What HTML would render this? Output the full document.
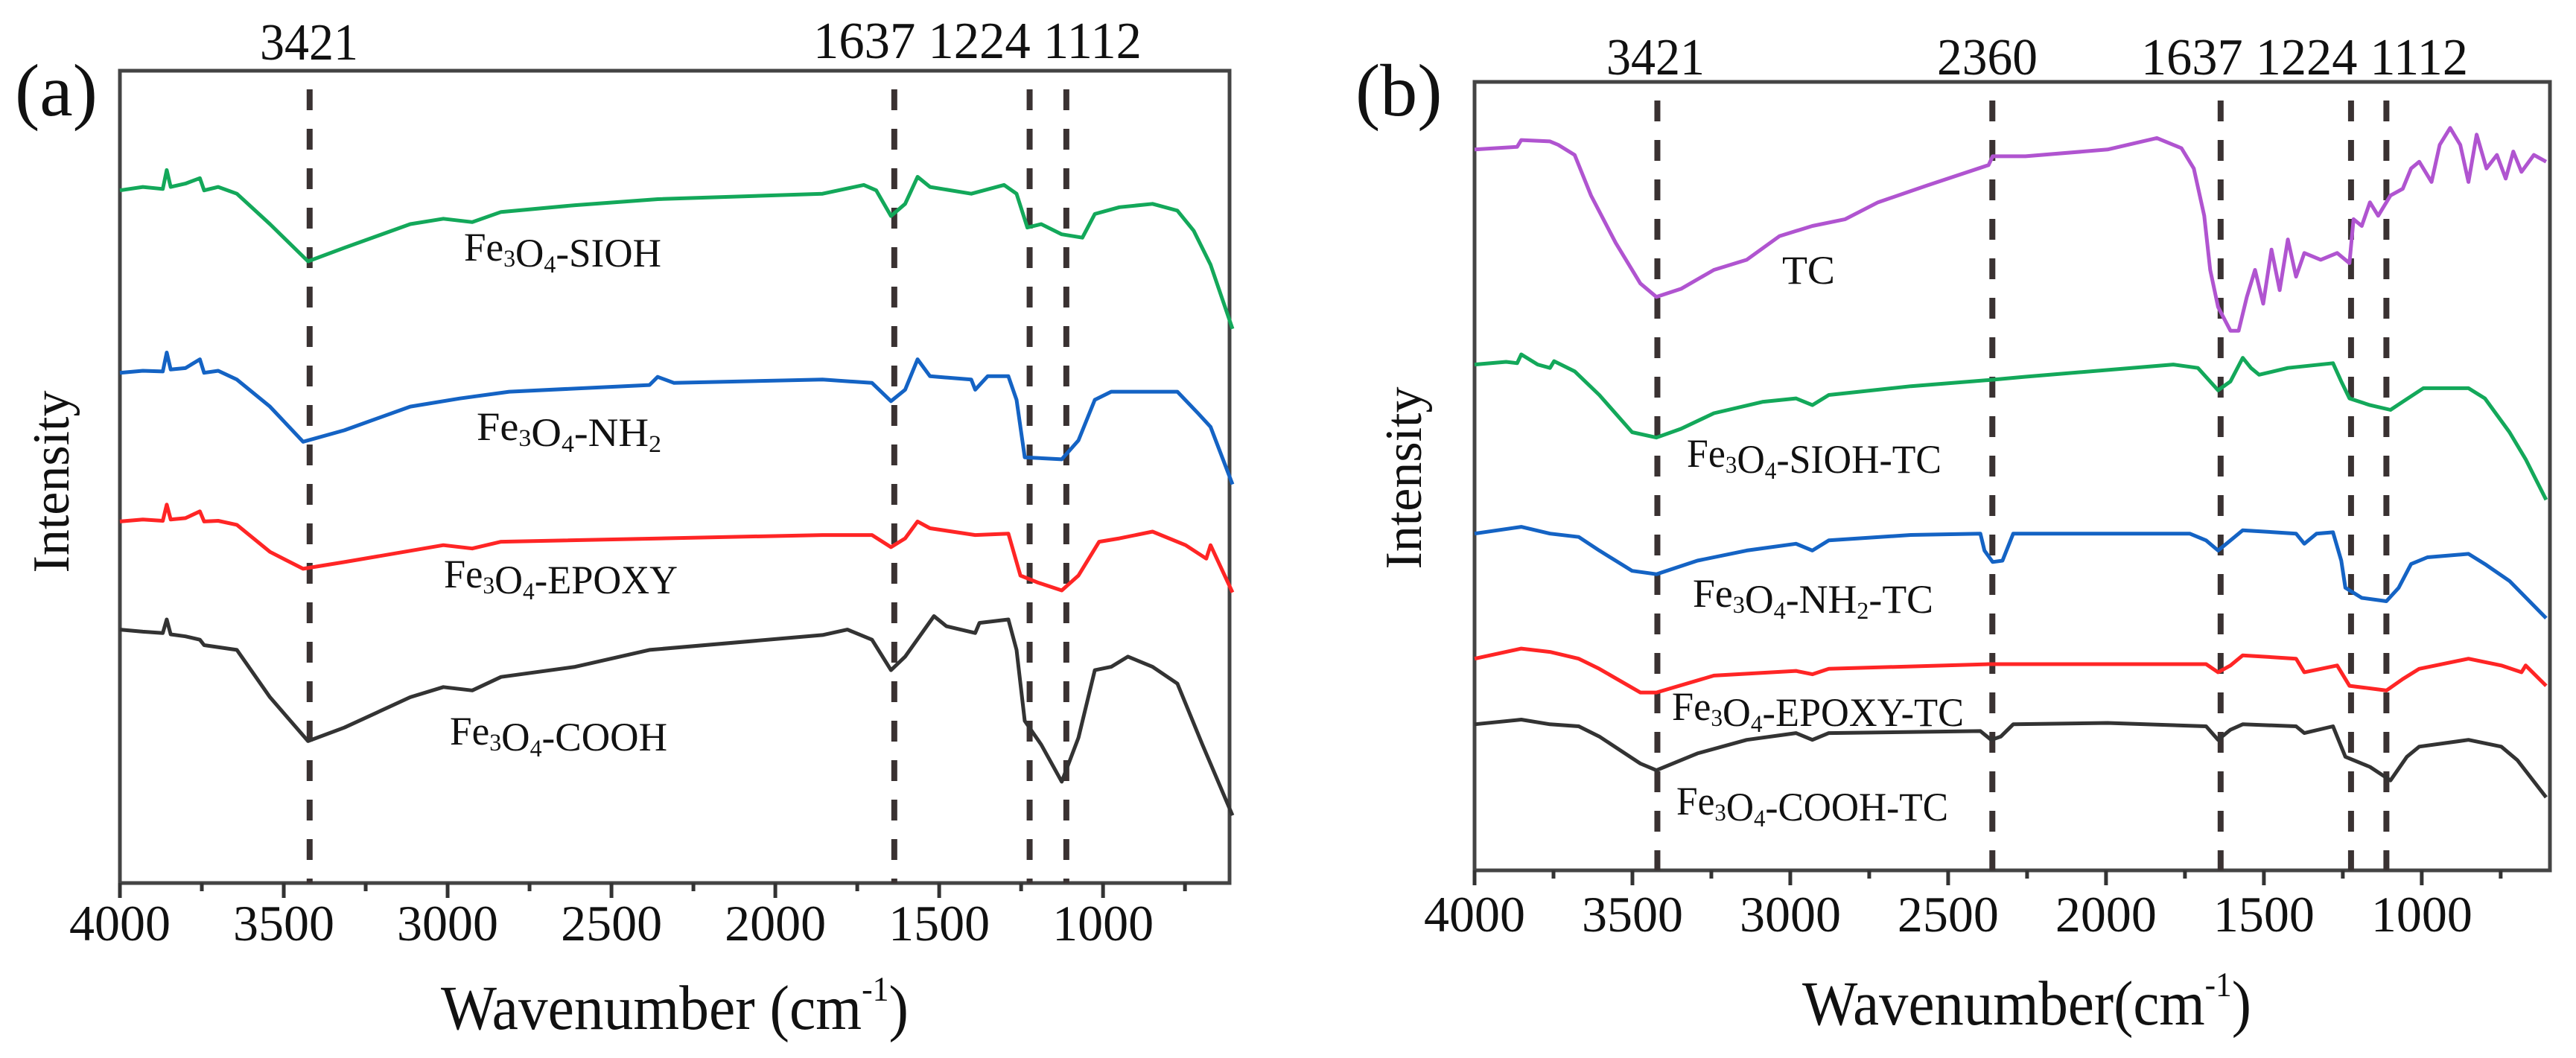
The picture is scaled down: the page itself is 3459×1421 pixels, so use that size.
<!DOCTYPE html>
<html>
<head>
<meta charset="utf-8">
<style>
  html,body{margin:0;padding:0;background:#fff;}
  svg{display:block;}
  text{font-family:"Liberation Serif","DejaVu Serif",serif;fill:#111;}
</style>
</head>
<body>
<svg id="fig" width="3459" height="1421" viewBox="0 0 3459 1421" xmlns="http://www.w3.org/2000/svg">
  <rect x="0" y="0" width="3459" height="1421" fill="#fff"/>
  <g id="panelA"></g>
  <g id="panelB"></g>
</svg>
<script>
// ---------------- DATA: panel (a) ----------------
const tickLabels = [4000, 3500, 3000, 2500, 2000, 1500, 1000];
const minorTicks = [3750, 3250, 2750, 2250, 1750, 1250, 750];
const peaksA = [3421, 1637, 1224, 1112];
const peaksB = [3421, 2360, 1637, 1224, 1112];

const siohWn = [4000,3930,3869,3857,3845,3800,3756,3743,3700,3643,3542,3426,3315,3114,3013,2925,2837,2611,2359,1856,1730,1692,1647,1604,1566,1528,1402,1302,1264,1231,1189,1126,1063,1025,950,849,773,723,672,605];
const siohVal = [1025,1030,1027,1055,1030,1035,1043,1025,1030,1020,975,920,940,975,983,978,993,1003,1012,1020,1033,1025,987,1005,1045,1030,1020,1033,1020,970,975,960,955,990,1000,1005,995,965,915,820];

const nh2Wn = [4000,3930,3869,3857,3845,3800,3756,3743,3700,3643,3542,3441,3315,3114,2963,2812,2384,2359,2309,1856,1705,1647,1604,1566,1528,1402,1390,1352,1289,1264,1239,1126,1075,1025,975,773,710,672,605];
const nh2Val = [755,758,757,785,760,762,775,755,758,745,705,653,670,705,717,727,737,749,740,745,740,713,730,775,750,745,730,750,750,715,630,627,655,715,727,727,695,675,590];

const epoxyWn = [4000,3930,3869,3857,3845,3800,3756,3743,3700,3643,3542,3441,3315,3013,2925,2837,1856,1705,1647,1604,1566,1528,1390,1289,1252,1201,1126,1075,1012,950,849,748,685,672,605];
const epoxyVal = [535,538,536,560,538,540,550,535,536,530,490,465,475,500,495,505,515,515,497,510,535,525,515,517,455,445,433,455,505,510,520,500,480,500,430];

const coohWn = [4000,3930,3869,3857,3845,3800,3756,3743,3643,3542,3426,3315,3114,3013,2925,2837,2611,2384,1856,1780,1705,1647,1604,1516,1478,1390,1377,1289,1264,1239,1189,1126,1075,1025,975,924,849,773,697,605];
const coohVal = [375,372,370,390,368,365,360,352,345,275,210,230,275,290,285,305,320,345,367,375,360,315,335,395,380,370,385,390,345,240,205,150,215,315,320,335,320,295,205,100];

// ---------------- DATA: panel (b) ----------------
const tcWn = [4000,3865,3852,3761,3735,3683,3631,3553,3475,3424,3346,3242,3138,3034,2930,2826,2722,2566,2372,2359,2255,1995,1839,1761,1722,1689,1670,1645,1606,1580,1554,1528,1502,1476,1450,1424,1398,1372,1320,1268,1229,1216,1190,1164,1138,1099,1060,1034,1008,969,943,910,878,852,826,795,762,734,710,684,645,606];
const tcVal = [1066,1070,1080,1078,1073,1058,998,928,868,848,860,888,903,938,953,963,988,1013,1043,1056,1056,1066,1083,1068,1038,968,888,833,798,798,848,888,838,918,858,933,878,913,903,913,898,963,953,988,968,998,1008,1038,1048,1018,1073,1098,1073,1018,1088,1038,1058,1023,1063,1033,1058,1048];

const siohTcWn = [4000,3900,3865,3852,3800,3761,3748,3683,3605,3501,3424,3346,3242,3086,2982,2930,2878,2618,2372,2255,1787,1709,1645,1606,1567,1541,1515,1424,1281,1255,1229,1164,1099,1060,995,852,800,722,671,606];
const siohTcVal = [748,752,750,763,748,743,753,738,703,648,640,653,676,693,698,688,703,716,725,730,748,743,710,723,758,743,733,743,750,723,698,688,681,693,713,713,698,648,608,548];

const nh2TcWn = [4000,3852,3761,3670,3605,3501,3424,3294,3138,2982,2930,2878,2618,2398,2385,2359,2328,2294,1995,1735,1683,1645,1606,1567,1398,1372,1333,1281,1255,1242,1190,1112,1073,1034,982,852,800,722,606];
const nh2TcVal = [498,508,498,493,473,443,438,458,473,483,473,488,496,498,473,456,458,498,498,498,488,473,488,503,498,483,498,500,458,418,403,398,418,453,463,468,453,428,373];

const epoxyTcWn = [4000,3852,3761,3670,3605,3475,3424,3242,2982,2930,2878,2372,1995,1683,1645,1606,1567,1398,1372,1268,1229,1112,1060,1008,852,748,684,671,606];
const epoxyTcVal = [313,328,323,313,298,263,263,288,295,290,298,305,305,305,293,303,318,313,293,303,273,266,283,298,313,303,293,303,273];

const coohTcWn = [4000,3852,3761,3670,3605,3475,3424,3294,3138,2982,2930,2878,2398,2364,2333,2294,1995,1683,1645,1606,1567,1398,1372,1281,1242,1164,1099,1047,1008,852,748,697,606];
const coohTcVal = [216,223,216,213,198,158,148,173,193,203,193,203,206,193,198,216,218,213,193,208,216,213,203,213,168,153,133,168,183,193,183,163,108];

// ---------------- RENDER ----------------
const NS = "http://www.w3.org/2000/svg";
function mk(tag, attrs, parent){
  const e = document.createElementNS(NS, tag);
  for (const k in attrs) e.setAttribute(k, attrs[k]);
  parent.appendChild(e);
  return e;
}

function makeAxes(left, top, right, bottom, wnMax, wnRight, vMax){
  const ppu = (right - left) / (wnMax - wnRight);
  return {
    left, top, right, bottom,
    x: wn => left + (wnMax - wn) * ppu,
    y: v => bottom - v * (bottom - top) / vMax
  };
}

function addSub(t, main, sub){
  const a = document.createElementNS(NS, "tspan"); a.textContent = main; t.appendChild(a);
  const s = document.createElementNS(NS, "tspan"); s.textContent = sub;
  s.setAttribute("font-size", "60%"); s.setAttribute("dy", "8"); t.appendChild(s);
  const r = document.createElementNS(NS, "tspan"); r.setAttribute("dy", "-8"); t.appendChild(r);
  return r;
}

function drawPanel(g, ax, opts){
  // frame
  const frame = mk("rect", {x: ax.left, y: ax.top, width: ax.right-ax.left, height: ax.bottom-ax.top, fill: "none", stroke: "#444", "stroke-width": 5}, g);
  
  
  // ticks
  tickLabels.forEach(v => {
    const x = ax.x(v);
    const t = mk("line", {x1: x, x2: x, y1: ax.bottom, y2: ax.bottom + 20, stroke: "#333", "stroke-width": 5}, g);
    
    
    const lb = mk("text", {x: x, y: opts.tickBase, "font-size": 68, "text-anchor": "middle"}, g);
    lb.textContent = String(v);
    
    
  });
  minorTicks.forEach(v => {
    const x = ax.x(v);
    if (x > ax.right) return;
    const t = mk("line", {x1: x, x2: x, y1: ax.bottom, y2: ax.bottom + 11, stroke: "#333", "stroke-width": 5}, g);
    
    
  });
  // dashed peak lines + labels
  opts.peaks.forEach(p => {
    const x = ax.x(p);
    const l = mk("line", {x1: x, x2: x, y1: ax.top + 25, y2: ax.bottom, stroke: "#3a3232", "stroke-width": 8, "stroke-dasharray": "28 25"}, g);
    
    
  });
  opts.peakLabels.forEach(pl => {
    const t = mk("text", {x: pl.x, y: pl.y, "font-size": 70, textLength: pl.w, lengthAdjust: "spacingAndGlyphs"}, g);
    t.textContent = pl.text;
    
    
  });
  // series
  opts.series.forEach(s => {
    let d = "";
    s.wn.forEach((w, i) => { d += (i ? "L" : "M") + ax.x(w).toFixed(1) + " " + ax.y(s.val[i]).toFixed(1); });
    const p = mk("path", {d: d, fill: "none", stroke: s.color, "stroke-width": 5, "stroke-linejoin": "round"}, g);
    
    
  });
  // series labels
  opts.labels.forEach(lb => {
    const t = mk("text", {x: lb.x, y: lb.y, "font-size": 54}, g);
    if (lb.plain) { t.textContent = lb.plain; }
    else {
      let r = addSub(t, "Fe", "3");
      r = addSub(t, "O", "4");
      if (lb.sub2) { r.textContent = lb.mid; const r2 = addSub(t, "", lb.sub2); r2.textContent = lb.tail || ""; }
      else r.textContent = lb.mid;
    }
    t.setAttribute("textLength", lb.w);
    t.setAttribute("lengthAdjust", "spacingAndGlyphs");
    
    
  });
  // panel letter
  const pl = mk("text", {x: opts.letter.x, y: opts.letter.y, "font-size": 100}, g);
  pl.textContent = opts.letter.text;
  
  
  // y title
  const yt = mk("text", {x: 0, y: 0, "font-size": 70, "text-anchor": "middle", transform: "translate(" + opts.yTitle.x + "," + opts.yTitle.y + ") rotate(-90)"}, g);
  yt.textContent = "Intensity";
  
  
  // x title
  const xt = mk("text", {x: opts.xTitle.x, y: opts.xTitle.y, "font-size": 85, textLength: opts.xTitle.w, lengthAdjust: "spacingAndGlyphs"}, g);
  const a = document.createElementNS(NS, "tspan"); a.textContent = opts.xTitle.text; xt.appendChild(a);
  const sp = document.createElementNS(NS, "tspan"); sp.textContent = "-1"; sp.setAttribute("font-size", "55%"); sp.setAttribute("dy", "-38"); xt.appendChild(sp);
  const cl = document.createElementNS(NS, "tspan"); cl.textContent = ")"; cl.setAttribute("dy", "38"); xt.appendChild(cl);
  
  
}

const axA = makeAxes(161, 95, 1651, 1186, 4000, 614, 1202);
drawPanel(document.getElementById("panelA"), axA, {
  tickBase: 1263,
  peaks: peaksA,
  peakLabels: [
    {text: "3421", x: 349, y: 80, w: 132},
    {text: "1637 1224 1112", x: 1092, y: 78, w: 441}
  ],
  series: [
    {name: "series-fe3o4-sioh", wn: siohWn, val: siohVal, color: "#13a85a"},
    {name: "series-fe3o4-nh2", wn: nh2Wn, val: nh2Val, color: "#1463c4"},
    {name: "series-fe3o4-epoxy", wn: epoxyWn, val: epoxyVal, color: "#ff2525"},
    {name: "series-fe3o4-cooh", wn: coohWn, val: coohVal, color: "#333333"}
  ],
  labels: [
    {name: "label-fe3o4-sioh", x: 623, y: 350, w: 265, mid: "-SIOH"},
    {name: "label-fe3o4-nh2", x: 640, y: 591, w: 248, mid: "-NH", sub2: "2"},
    {name: "label-fe3o4-epoxy", x: 596, y: 789, w: 314, mid: "-EPOXY"},
    {name: "label-fe3o4-cooh", x: 604, y: 1000, w: 292, mid: "-COOH"}
  ],
  letter: {text: "(a)", x: 20, y: 155},
  yTitle: {x: 92, y: 647},
  xTitle: {text: "Wavenumber (cm", x: 592, y: 1382, w: 628}
});

const axB = makeAxes(1980, 110, 3424, 1169, 4000, 594, 1166);
drawPanel(document.getElementById("panelB"), axB, {
  tickBase: 1251,
  peaks: peaksB,
  peakLabels: [
    {text: "3421", x: 2157, y: 100, w: 132},
    {text: "2360", x: 2601, y: 100, w: 135},
    {text: "1637 1224 1112", x: 2875, y: 100, w: 439}
  ],
  series: [
    {name: "series-tc", wn: tcWn, val: tcVal, color: "#b054d0"},
    {name: "series-fe3o4-sioh-tc", wn: siohTcWn, val: siohTcVal, color: "#13a85a"},
    {name: "series-fe3o4-nh2-tc", wn: nh2TcWn, val: nh2TcVal, color: "#1463c4"},
    {name: "series-fe3o4-epoxy-tc", wn: epoxyTcWn, val: epoxyTcVal, color: "#ff2525"},
    {name: "series-fe3o4-cooh-tc", wn: coohTcWn, val: coohTcVal, color: "#333333"}
  ],
  labels: [
    {name: "label-tc", x: 2393, y: 381, w: 71, plain: "TC"},
    {name: "label-fe3o4-sioh-tc", x: 2265, y: 627, w: 342, mid: "-SIOH-TC"},
    {name: "label-fe3o4-nh2-tc", x: 2273, y: 815, w: 323, mid: "-NH", sub2: "2", tail: "-TC"},
    {name: "label-fe3o4-epoxy-tc", x: 2245, y: 967, w: 392, mid: "-EPOXY-TC"},
    {name: "label-fe3o4-cooh-tc", x: 2251, y: 1094, w: 365, mid: "-COOH-TC"}
  ],
  letter: {text: "(b)", x: 1820, y: 155},
  yTitle: {x: 1908, y: 642},
  xTitle: {text: "Wavenumber(cm", x: 2420, y: 1376, w: 603}
});
</script>
</body>
</html>
